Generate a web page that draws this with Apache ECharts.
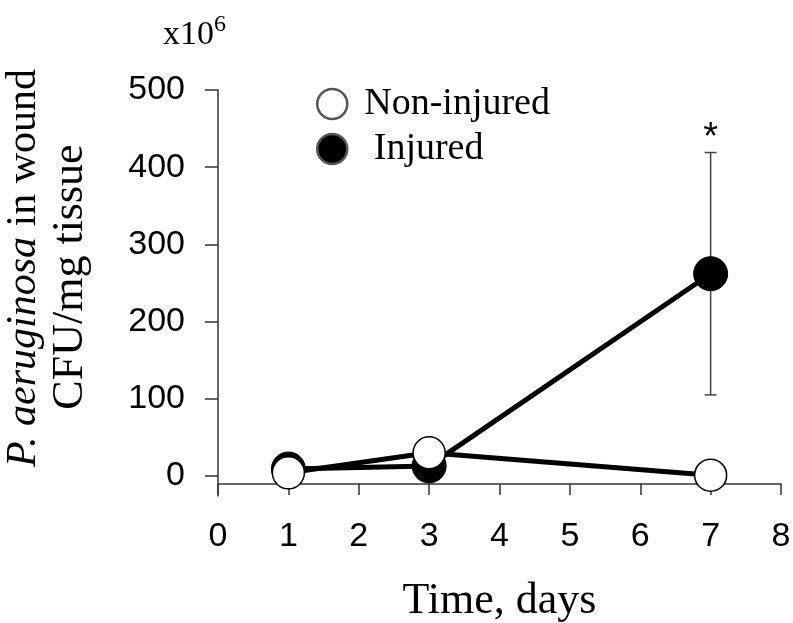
<!DOCTYPE html>
<html>
<head>
<meta charset="utf-8">
<script src="https://cdn.jsdelivr.net/npm/echarts@6/dist/echarts.min.js"></script>
<style>
  html, body { margin: 0; padding: 0; background: #fff; }
  #chart { width: 793px; height: 623px; }
</style>
</head>
<body>
<div id="chart"></div>
<script>
// values (CFU/mg tissue, x10^6)
var days = [1, 3, 7]
var nonInjured = [4, 30, 1]
var injured = [9, 13, 262]
var injuredErr = [0, 0, 157]   // only day 7 shows an error bar
var yTicks = [0, 100, 200, 300, 400, 500]

var sans = 'Liberation Sans'
var serif = 'Liberation Serif'

var chart = echarts.init(document.getElementById('chart'))

var errData = []
days.forEach(function (d, i) {
  if (injuredErr[i] > 0) {
    errData.push([d, injured[i] - injuredErr[i], injured[i] + injuredErr[i]])
  }
})

chart.setOption({
  animation: false,
  title: {
    text: '{a|x10}{s|6}',
    left: 158,
    top: 8,
    textStyle: {
      rich: {
        a: { fontFamily: serif, fontSize: 34, fontWeight: 'normal', color: '#000', verticalAlign: 'bottom' },
        s: { fontFamily: serif, fontSize: 24, fontWeight: 'normal', color: '#000', padding: [0, 0, 15, 0], verticalAlign: 'bottom' }
      }
    }
  },
  legend: {
    orient: 'vertical',
    left: 311,
    top: 80,
    itemWidth: 30,
    itemHeight: 30,
    itemGap: 7,
    icon: 'circle',
    formatter: function (name) {
      return name === 'Injured' ? ' ' + name : name
    },
    textStyle: { fontFamily: serif, fontSize: 38, color: '#000', padding: [0, 0, 0, 12] },
    data: [
      { name: 'Non-injured', itemStyle: { color: '#fff', borderColor: '#555', borderWidth: 2.5 } },
      { name: 'Injured', itemStyle: { color: '#000', borderColor: '#555', borderWidth: 2.5 } }
    ]
  },
  grid: { left: 218, top: 90, right: 12, bottom: 127, outerBoundsMode: 'none', containLabel: false },
  xAxis: {
    type: 'value',
    min: 0,
    max: 8,
    interval: 1,
    offset: -12,
    name: 'Time, days',
    nameLocation: 'middle',
    nameGap: 95,
    nameTextStyle: { fontFamily: serif, fontSize: 44, color: '#000' },
    axisLine: { onZero: false, lineStyle: { color: '#333', width: 1.5 } },
    axisTick: { length: 11, lineStyle: { color: '#333', width: 1.5 } },
    axisLabel: { fontFamily: sans, fontSize: 34, color: '#000', margin: 36 },
    splitLine: { show: false }
  },
  yAxis: {
    type: 'value',
    min: -26,
    max: 500,
    name: '{i|P. aeruginosa}{n1| in wound}\n{n|CFU/mg tissue}',
    nameLocation: 'middle',
    nameGap: 124,
    nameRotate: 90,
    nameTextStyle: {
      color: '#000',
      align: 'center',
      padding: [0, 0, 0, 32],
      rich: {
        i: { fontFamily: serif, fontStyle: 'italic', fontSize: 42, lineHeight: 47, color: '#000', padding: [0, 0, 0, 18] },
        n1: { fontFamily: serif, fontSize: 42, lineHeight: 47, color: '#000' },
        n: { fontFamily: serif, fontSize: 44, lineHeight: 47, color: '#000' }
      }
    },
    axisLine: { onZero: false, lineStyle: { color: '#333', width: 1.5 } },
    axisTick: { length: 13, customValues: yTicks, lineStyle: { color: '#333', width: 1.5 } },
    axisLabel: { fontFamily: sans, fontSize: 34, color: '#000', margin: 33, customValues: yTicks },
    splitLine: { show: false }
  },
  series: [
    {
      name: 'Injured',
      type: 'line',
      data: days.map(function (d, i) { return [d, injured[i]] }),
      symbol: 'circle',
      symbolSize: 34,
      lineStyle: { color: '#000', width: 5 },
      itemStyle: { color: '#000', borderColor: '#000', borderWidth: 1 },
      z: 3
    },
    {
      type: 'custom',
      name: 'err',
      data: errData,
      z: 2,
      renderItem: function (params, api) {
        var x = api.value(0)
        var lo = api.coord([x, api.value(1)])
        var hi = api.coord([x, api.value(2)])
        var cap = 6
        var st = { stroke: '#444', lineWidth: 1.5 }
        return {
          type: 'group',
          children: [
            { type: 'line', shape: { x1: lo[0], y1: lo[1], x2: hi[0], y2: hi[1] }, style: st },
            { type: 'line', shape: { x1: lo[0] - cap, y1: lo[1], x2: lo[0] + cap, y2: lo[1] }, style: st },
            { type: 'line', shape: { x1: hi[0] - cap, y1: hi[1], x2: hi[0] + cap, y2: hi[1] }, style: st },
            {
              type: 'text',
              style: {
                text: '*', x: hi[0], y: hi[1] - 14,
                align: 'center', verticalAlign: 'middle',
                fontFamily: sans, fontSize: 38, fill: '#000'
              }
            }
          ]
        }
      }
    },
    {
      name: 'Non-injured',
      type: 'line',
      data: days.map(function (d, i) { return [d, nonInjured[i]] }),
      symbol: 'circle',
      symbolSize: 32,
      lineStyle: { color: '#000', width: 5 },
      itemStyle: { color: '#fff', borderColor: '#000', borderWidth: 1.5 },
      z: 4
    }
  ]
})
</script>
</body>
</html>
